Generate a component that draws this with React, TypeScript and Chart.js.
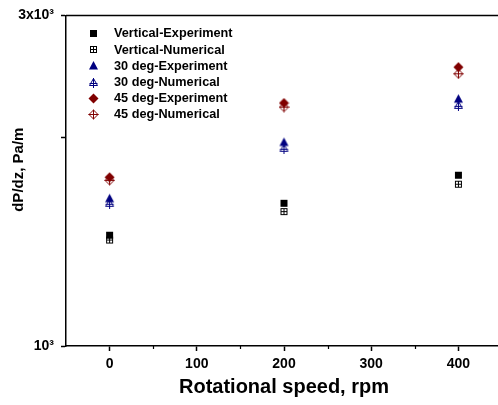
import React, { useEffect, useRef } from 'react';
import { Chart, registerables } from 'chart.js';

Chart.register(...registerables);

// ---- Data ----
const rpm = [0, 200, 400];
const verticalExp = [1445, 1607, 1764];
const verticalNum = [1422, 1563, 1712];
const deg30Exp = [1634, 1970, 2275];
const deg30Num = [1607, 1929, 2225];
const deg45Exp = [1752, 2242, 2526];
const deg45Num = [1734, 2212, 2471];

const seriesLabels = [
  'Vertical-Experiment',
  'Vertical-Numerical',
  '30 deg-Experiment',
  '30 deg-Numerical',
  '45 deg-Experiment',
  '45 deg-Numerical',
];
const seriesValues = [verticalExp, verticalNum, deg30Exp, deg30Num, deg45Exp, deg45Num];
const seriesShapes = ['square', 'square', 'triangle', 'triangle', 'diamond', 'diamond'];
const seriesFilled = [true, false, true, false, true, false];
const seriesColors = ['#000000', '#000000', '#000080', '#000080', '#800000', '#800000'];

const xMinorTicks = [50, 150, 250, 350];
const yTickValues = [1000, 2000, 3000];
const yTickLabels: Record<number, string> = { 1000: '10³', 3000: '3x10³' };

const FONT = "'Liberation Sans', Arial, sans-serif";

function makeSymbol(shape: string, color: string, filled: boolean): HTMLCanvasElement {
  const c = document.createElement('canvas');
  c.width = 11;
  c.height = 11;
  const g = c.getContext('2d')!;
  g.fillStyle = color;
  g.strokeStyle = color;
  g.lineWidth = 1;
  if (shape === 'square') {
    if (filled) {
      g.fillRect(2, 2, 7, 7);
    } else {
      g.strokeRect(2.5, 2.5, 6, 6);
      g.beginPath();
      g.moveTo(5.5, 2.5); g.lineTo(5.5, 8.5);
      g.moveTo(2.5, 5.5); g.lineTo(8.5, 5.5);
      g.stroke();
    }
  } else if (shape === 'triangle') {
    g.beginPath();
    g.moveTo(5.5, 1); g.lineTo(10, 9.5); g.lineTo(1, 9.5); g.closePath();
    if (filled) {
      g.fill();
    } else {
      g.beginPath();
      g.moveTo(5.5, 1.5); g.lineTo(9.5, 8.5); g.lineTo(1.5, 8.5); g.closePath();
      g.moveTo(5.5, 1); g.lineTo(5.5, 11);
      g.moveTo(1.5, 6.5); g.lineTo(9.5, 6.5);
      g.stroke();
    }
  } else {
    g.beginPath();
    g.moveTo(5.5, 0.5); g.lineTo(10.5, 5.5); g.lineTo(5.5, 10.5); g.lineTo(0.5, 5.5); g.closePath();
    if (filled) {
      g.fill();
    } else {
      g.beginPath();
      g.moveTo(5.5, 1); g.lineTo(10, 5.5); g.lineTo(5.5, 10); g.lineTo(1, 5.5); g.closePath();
      g.moveTo(5.5, 0.5); g.lineTo(5.5, 10.5);
      g.moveTo(0.5, 5.5); g.lineTo(10.5, 5.5);
      g.stroke();
    }
  }
  return c;
}

const decorPlugin = {
  id: 'decor',
  afterDraw(chart: any) {
    const ctx = chart.ctx as CanvasRenderingContext2D;
    const { left, right, top, bottom } = chart.chartArea;
    ctx.save();
    // top frame line
    ctx.strokeStyle = '#000';
    ctx.lineWidth = 1.5;
    ctx.beginPath();
    ctx.moveTo(left, top);
    ctx.lineTo(right, top);
    ctx.stroke();

    // short minor ticks on x axis
    const xs = chart.scales.x;
    ctx.beginPath();
    xMinorTicks.forEach((v) => {
      const px = Math.round(xs.getPixelForValue(v)) + 0.5;
      ctx.moveTo(px, bottom);
      ctx.lineTo(px, bottom + 3);
    });
    ctx.lineWidth = 1.2;
    ctx.stroke();

    // y-axis title
    ctx.save();
    ctx.translate(left - 47, (top + bottom) / 2 - 11);
    ctx.rotate(-Math.PI / 2);
    ctx.font = `bold 15px ${FONT}`;
    ctx.fillStyle = '#000';
    ctx.textAlign = 'center';
    ctx.textBaseline = 'middle';
    ctx.fillText('dP/dz, Pa/m', 0, 0);
    ctx.restore();

    // legend inside plot
    ctx.font = `bold 12.7px ${FONT}`;
    ctx.fillStyle = '#000';
    ctx.textAlign = 'left';
    ctx.textBaseline = 'middle';
    chart.data.datasets.forEach((ds: any, i: number) => {
      const y = top + 18 + i * 16.2;
      const img = ds.pointStyle as HTMLCanvasElement;
      ctx.drawImage(img, Math.round(left + 27 - 5.5), Math.round(y - 5.5));
      ctx.fillText(ds.label, left + 48, y + 0.5);
    });
    ctx.restore();
  },
};

export default function App() {
  const canvasRef = useRef<HTMLCanvasElement | null>(null);

  useEffect(() => {
    if (!canvasRef.current) return;
    const datasets = seriesLabels.map((label, i) => {
      const img = makeSymbol(seriesShapes[i], seriesColors[i], seriesFilled[i]);
      return {
        label,
        data: rpm.map((x, j) => ({ x, y: seriesValues[i][j] })),
        pointStyle: img as any,
        pointRadius: 5,
        backgroundColor: seriesColors[i],
        borderColor: seriesColors[i],
        showLine: false,
      };
    });

    const chart = new Chart(canvasRef.current, {
      type: 'scatter',
      data: { datasets },
      options: {
        animation: false,
        responsive: false,
        layout: { padding: { left: 0, right: 8, top: 15, bottom: 0 } },
        plugins: {
          legend: { display: false },
          tooltip: { enabled: false },
        },
        scales: {
          x: {
            type: 'linear',
            min: -50,
            max: 450,
            afterFit: (scale: any) => {
              scale.height = 59;
            },
            border: { display: true, color: '#000', width: 1.5 },
            grid: {
              display: true,
              drawOnChartArea: false,
              drawTicks: true,
              tickLength: 5,
              tickColor: (c: any) =>
                c.tick && Number(c.tick.value) % 100 === 0 ? '#000' : 'rgba(0,0,0,0)',
              tickWidth: 1.5,
            },
            ticks: {
              stepSize: 50,
              autoSkip: false,
              maxRotation: 0,
              padding: 5,
              color: '#000',
              font: { family: FONT, size: 14, weight: 'bold' },
              callback: (v: any) => (Number(v) % 100 === 0 ? String(v) : ''),
            },
            title: {
              display: true,
              text: 'Rotational speed, rpm',
              color: '#000',
              font: { family: FONT, size: 20, weight: 'bold' },
              padding: { top: 0, bottom: 6 },
            },
          },
          y: {
            type: 'logarithmic',
            min: 1000,
            max: 3000,
            afterFit: (scale: any) => {
              scale.width = 66;
            },
            afterBuildTicks: (scale: any) => {
              scale.ticks = yTickValues.map((v) => ({ value: v }));
            },
            border: { display: true, color: '#000', width: 1.5 },
            grid: {
              display: true,
              drawOnChartArea: false,
              drawTicks: true,
              tickLength: 5,
              tickColor: '#000',
              tickWidth: 1.5,
            },
            ticks: {
              autoSkip: false,
              padding: 7,
              color: '#000',
              font: { family: FONT, size: 14, weight: 'bold' },
              callback: (v: any) => yTickLabels[Number(v)] ?? '',
            },
          },
        },
      } as any,
      plugins: [decorPlugin],
    });
    return () => chart.destroy();
  }, []);

  return (
    <div
      style={{
        position: 'fixed',
        left: 0,
        top: 0,
        width: 498,
        height: 405,
        overflow: 'hidden',
        background: '#fff',
      }}
    >
      <canvas ref={canvasRef} width={510} height={405} style={{ display: 'block' }} />
    </div>
  );
}
